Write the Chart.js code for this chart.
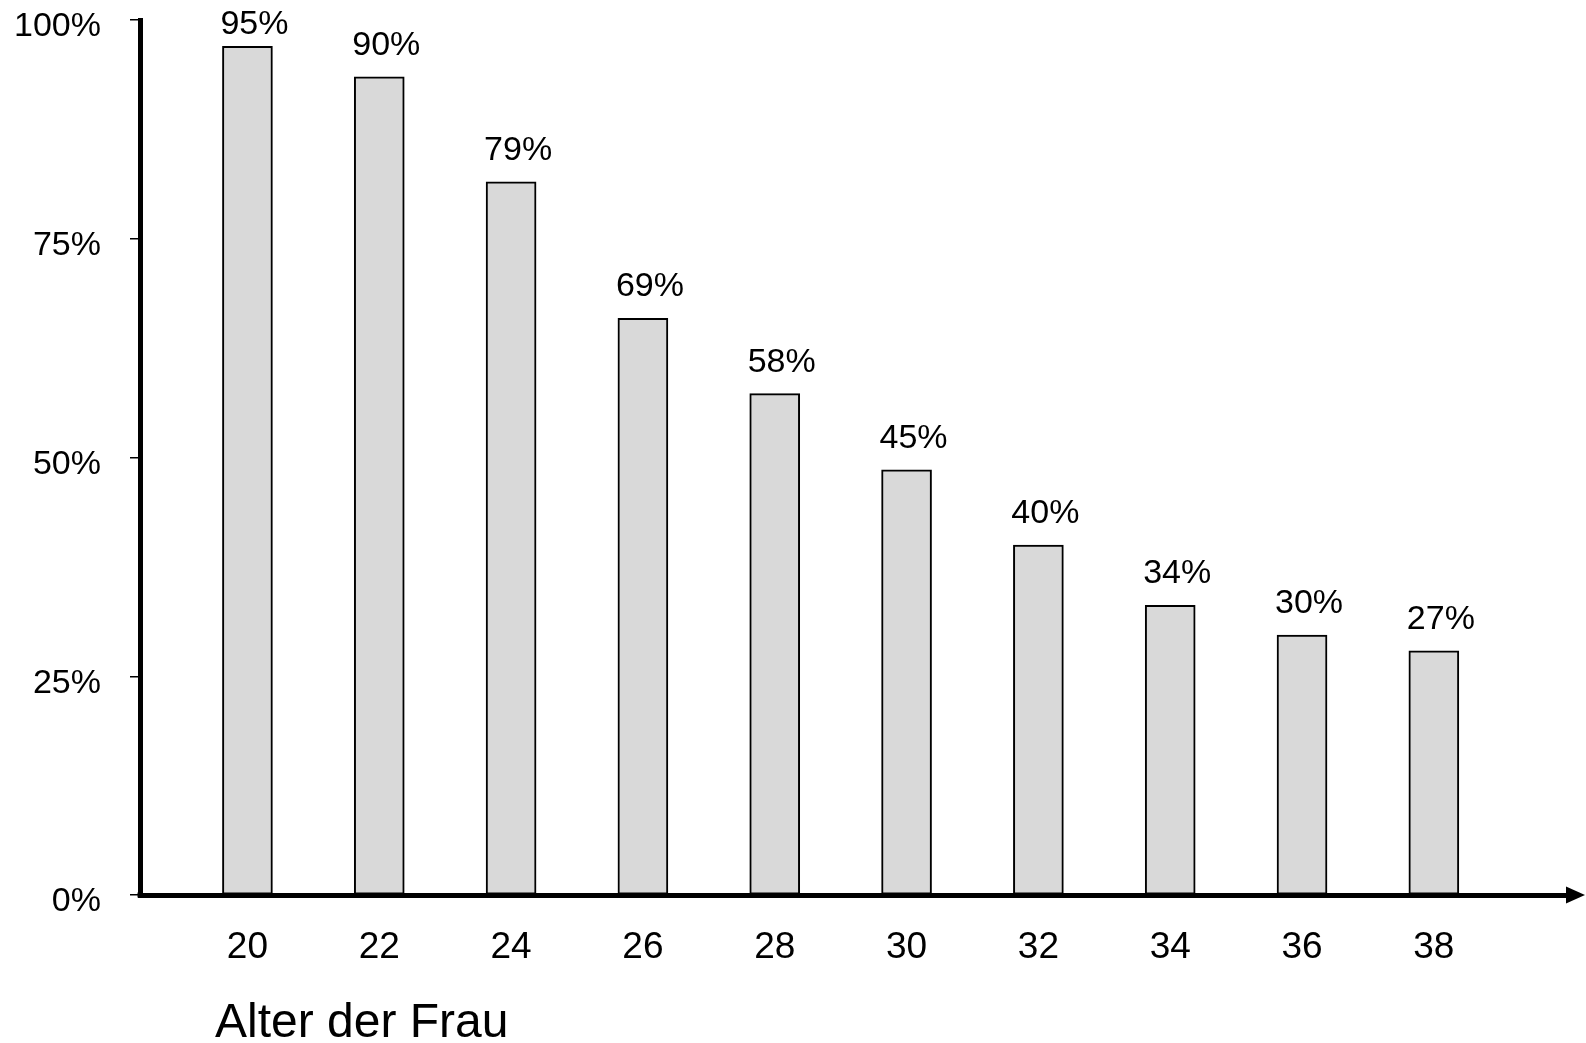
<!DOCTYPE html>
<html>
<head>
<meta charset="utf-8">
<script src="https://cdn.jsdelivr.net/npm/chart.js@4.4.1/dist/chart.umd.min.js"></script>
<style>
  body { margin: 0; background: #fff; }
  #wrap { width: 1586px; height: 1043px; position: relative; }
</style>
</head>
<body>
<div id="wrap"><canvas id="myChart"></canvas></div>
<script>
// Alter der Frau (Jahre)
var ages = [20, 22, 24, 26, 28, 30, 32, 34, 36, 38];
// bar heights as drawn in the picture (percent)
var barValues = [97.0, 93.5, 81.5, 65.9, 57.3, 48.6, 40.0, 33.1, 29.7, 27.9];
// printed labels above the bars
var valueLabels = ["95%", "90%", "79%", "69%", "58%", "45%", "40%", "34%", "30%", "27%"];
var yTicks = [0, 25, 50, 75, 100];
var xTitle = "Alter der Frau";

var FONT = "'Liberation Sans', Arial, sans-serif";

// labels above bars, x-axis arrow and axis title
const extras = {
  id: "extras",
  afterDatasetsDraw(chart) {
    const ctx = chart.ctx;
    const meta = chart.getDatasetMeta(0);
    ctx.save();
    ctx.fillStyle = "#000";
    ctx.font = "34px " + FONT;
    ctx.textAlign = "center";
    ctx.textBaseline = "alphabetic";
    meta.data.forEach((bar, i) => {
      // keep the top label inside the canvas
      let y = Math.max(bar.y - 22, 34);
      ctx.fillText(valueLabels[i], bar.x + 7, y);
    });
    ctx.restore();
  },
  afterDraw(chart) {
    const ctx = chart.ctx;
    const area = chart.chartArea;
    const y = chart.scales.y.getPixelForValue(0);
    ctx.save();
    ctx.fillStyle = "#000";
    ctx.beginPath();
    ctx.moveTo(area.right - 1, y - 8.5);
    ctx.lineTo(area.right + 18, y);
    ctx.lineTo(area.right - 1, y + 8.5);
    ctx.closePath();
    ctx.fill();
    // corner fill where the two axes meet
    ctx.fillRect(area.left - 2.5, y - 2.5, 5, 5);
    ctx.font = "48px " + FONT;
    ctx.textAlign = "left";
    ctx.textBaseline = "alphabetic";
    ctx.fillText(xTitle, area.left + 75, 1037);
    ctx.restore();
  }
};

var ctx = document.getElementById("myChart");
var myChart = new Chart(ctx, {
  type: "bar",
  data: {
    datasets: [
      {
        data: ages.map((a, i) => ({ x: a, y: barValues[i] })),
        backgroundColor: "#d9d9d9",
        borderColor: "#000",
        borderWidth: 2,
        borderSkipped: false,
        barThickness: 50,
      },
    ],
  },
  options: {
    responsive: true,
    maintainAspectRatio: false,
    animation: false,
    devicePixelRatio: 1,
    layout: { padding: { top: 20, right: 19, bottom: 0, left: 0 } },
    plugins: {
      legend: { display: false },
      tooltip: { enabled: false },
    },
    scales: {
      x: {
        type: "linear",
        offset: false,
        min: 18.37,
        max: 40.02,
        grid: { display: false, drawTicks: false, offset: false },
        border: { display: true, color: "#000", width: 5 },
        afterBuildTicks: (axis) => {
          axis.ticks = ages.map((v) => ({ value: v }));
        },
        afterFit: (scale) => {
          scale.height = 148;
          scale.paddingLeft = 0;
          scale.paddingRight = 0;
        },
        ticks: {
          color: "#000",
          font: { family: FONT, size: 37 },
          padding: 31,
          maxRotation: 0,
          autoSkip: false,
          callback: (v) => String(v),
        },
      },
      y: {
        min: 0,
        max: 100,
        afterBuildTicks: (axis) => {
          axis.ticks = yTicks.map((v) => ({ value: v }));
        },
        afterFit: (scale) => {
          scale.width = 140;
          scale.paddingTop = 0;
          scale.paddingBottom = 0;
        },
        grid: {
          drawOnChartArea: false,
          drawTicks: true,
          tickLength: 10,
          color: "#000",
          lineWidth: 1.5,
        },
        border: { display: true, color: "#000", width: 5 },
        ticks: {
          color: "#000",
          font: { family: FONT, size: 34 },
          padding: 29,
          labelOffset: 7,
          callback: (v) => v + "%",
        },
      },
    },
  },
  plugins: [extras],
});
</script>
</body>
</html>
